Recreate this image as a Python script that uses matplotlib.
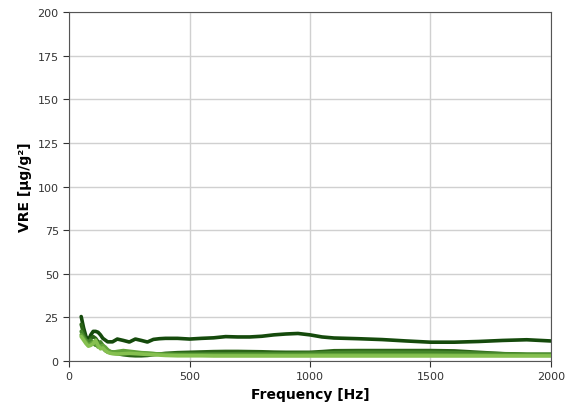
import matplotlib
import matplotlib.pyplot as plt
import numpy as np

matplotlib.use('Agg')

# Frequency axis [Hz]
freq = [50, 60, 70, 80, 90, 100, 110, 120, 130, 140, 150, 160, 170, 180,
        200, 225, 250, 275, 300, 325, 350, 375, 400, 450, 500, 550, 600,
        650, 700, 750, 800, 850, 900, 950, 1000, 1050, 1100, 1200, 1300,
        1400, 1500, 1600, 1700, 1800, 1900, 2000]

# VRE series [ug/g^2], darkest to lightest
vre_1 = [25.5, 19, 14, 12, 15, 17, 17, 16.5, 15, 13, 12, 11, 11, 11,
         12.6, 11.8, 10.9, 12.6, 11.8, 10.9, 12.4, 12.8, 13, 13, 12.6, 13, 13.3,
         14, 13.8, 13.8, 14.2, 15, 15.5, 15.8, 15, 13.8, 13.2, 12.8, 12.3,
         11.5, 10.8, 10.8, 11.2, 11.8, 12.2, 11.5]
vre_2 = [21, 16, 12, 9.5, 13, 14, 13, 11, 9, 7.5, 6, 5.2, 4.8, 4.5,
         4.2, 3.6, 3.2, 3.0, 3.0, 3.2, 3.6, 4.0, 4.4, 4.8, 5.0, 5.2, 5.4,
         5.5, 5.5, 5.4, 5.3, 5.1, 5.0, 5.0, 5.0, 5.4, 5.9, 6.0, 6.0,
         6.0, 6.0, 5.8, 5.0, 4.2, 3.6, 3.4]
vre_3 = [17, 14, 12, 11, 12, 10, 9, 10, 11, 9, 7, 6, 5.5, 5.2,
         5.0, 5.0, 4.8, 4.6, 4.5, 4.3, 4.2, 4.0, 4.0, 4.0, 4.0, 4.0, 4.1,
         4.1, 4.2, 4.2, 4.2, 4.2, 4.2, 4.3, 4.4, 4.6, 4.8, 5.0, 5.0,
         5.0, 5.0, 4.8, 4.5, 4.2, 4.0, 4.0]
vre_4 = [15, 13, 11, 9, 10, 11, 10, 8, 8.5, 9, 8, 6.5, 5.5, 5.0,
         5.5, 6.0, 5.6, 5.2, 4.8, 4.6, 4.3, 4.0, 3.8, 3.6, 3.5, 3.5, 3.4,
         3.4, 3.4, 3.4, 3.4, 3.4, 3.4, 3.4, 3.5, 3.5, 3.5, 3.5, 3.5,
         3.5, 3.5, 3.4, 3.4, 3.3, 3.3, 3.3]
vre_5 = [14, 12, 10, 8.5, 9, 10, 12, 9, 7, 7.5, 6, 5, 4.5, 4.2,
         4.0, 4.2, 4.4, 4.2, 4.0, 3.8, 3.6, 3.4, 3.2, 3.0, 3.0, 3.0, 2.9,
         2.9, 2.9, 2.9, 2.9, 2.9, 2.9, 2.9, 2.9, 2.9, 2.9, 2.9, 2.9,
         2.9, 2.9, 2.9, 2.9, 2.9, 2.9, 2.9]

series = [vre_1, vre_2, vre_3, vre_4, vre_5]
colors = ['#154a0c', '#2b6417', '#45862a', '#62a33a', '#86c050']

fig = plt.figure(figsize=(5.81, 4.10), dpi=100)
ax = fig.add_axes([0.119, 0.117, 0.829, 0.851])

for vals, c in zip(series, colors):
    ax.plot(freq, vals, color=c, lw=2.6, solid_capstyle='round')

ax.set_xlim(0, 2000)
ax.set_ylim(0, 200)
ax.set_xticks([0, 500, 1000, 1500, 2000])
ax.set_yticks(np.arange(0, 201, 25))
ax.grid(True, color='#d0d0d0', lw=1)
ax.set_axisbelow(True)
for s in ax.spines.values():
    s.set_color('#555555')
ax.tick_params(labelsize=8, colors='#333333', length=4)
ax.set_xlabel('Frequency [Hz]', fontsize=10, fontweight='bold')
ax.set_ylabel('VRE [µg/g²]', fontsize=10, fontweight='bold')

fig.savefig('out.png', dpi=100)
